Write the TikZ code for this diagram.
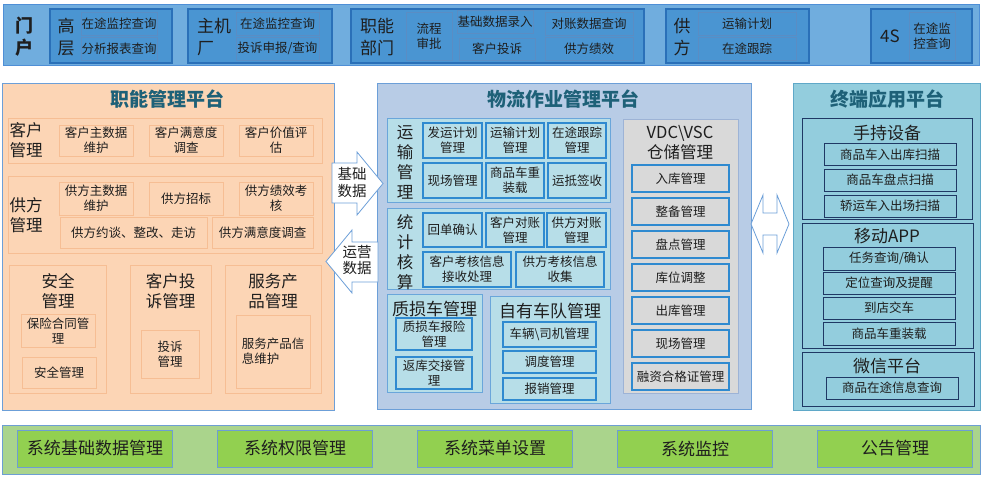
\documentclass[tikz,border=0pt]{standalone}
\usepackage{fontspec}
\setmainfont{Noto Sans CJK SC}
\usetikzlibrary{arrows,arrows.meta}

\definecolor{ink}{HTML}{1E1E1E}
\definecolor{topfill}{HTML}{70ADDE}
\definecolor{topline}{HTML}{4F8FD6}
\definecolor{topbox}{HTML}{4A95D2}
\definecolor{topedge}{HTML}{2A70B8}
\definecolor{topsubedge}{HTML}{5A8DC4}
\definecolor{peach}{HTML}{FCD5B5}
\definecolor{peachedge}{HTML}{F6BE94}
\definecolor{paneledge}{HTML}{6C9FD8}
\definecolor{steel}{HTML}{B8CCE6}
\definecolor{cyanbox}{HTML}{B7DEE8}
\definecolor{cyanedge}{HTML}{6AA6DA}
\definecolor{cyanline}{HTML}{2F8AD0}
\definecolor{greybox}{HTML}{D9D9D9}
\definecolor{greyedge}{HTML}{9DB3D6}
\definecolor{termfill}{HTML}{93CDDD}
\definecolor{termedge}{HTML}{5FA8C8}
\definecolor{navy}{HTML}{1F3864}
\definecolor{greenbar}{HTML}{AAD48C}
\definecolor{greenbox}{HTML}{92D050}
\definecolor{greenedge}{HTML}{6D9ED3}
\definecolor{tealtitle}{HTML}{1E6178}

\newcommand{\smallfnt}{\fontsize{12.5}{15}\selectfont}
\newcommand{\midfnt}{\fontsize{16.5}{20}\selectfont}
\newcommand{\topfnt}{\fontsize{17}{22}\selectfont}
\newcommand{\titlefnt}{\fontsize{19}{22}\selectfont\bfseries}

\begin{document}
\begin{tikzpicture}[
x=1pt,y=-1pt,
box/.style={rectangle,inner sep=0pt,outer sep=0pt,align=center,text=ink},
sz/.style 2 args={minimum width=#1pt,minimum height=#2pt},
topbar/.style={box,fill=topfill,draw=topline,line width=0.8pt},
tgrp/.style={box,fill=topbox,draw=topedge,line width=1.2pt},
tsub/.style={box,fill=topbox,draw=topsubedge,line width=0.6pt,font=\smallfnt},
lpanel/.style={box,fill=peach,draw=paneledge,line width=0.8pt},
lgrp/.style={box,draw=peachedge,line width=0.8pt},
lsub/.style={box,draw=peachedge,line width=0.8pt,font=\smallfnt},
mpanel/.style={box,fill=steel,draw=paneledge,line width=0.8pt},
cgrp/.style={box,fill=cyanbox,draw=cyanedge,line width=0.8pt},
csub/.style={box,fill=cyanbox,draw=cyanline,line width=1.2pt,font=\smallfnt},
ggrp/.style={box,fill=greybox,draw=greyedge,line width=0.8pt},
gsub/.style={box,fill=greybox,draw=cyanline,line width=1.2pt,font=\smallfnt},
rpanel/.style={box,fill=termfill,draw=termedge,line width=0.8pt},
rgrp/.style={box,draw=navy,line width=1pt},
rsub/.style={box,draw=navy,line width=1pt,font=\smallfnt},
bbar/.style={box,fill=greenbar,draw=greenedge,line width=0.8pt},
bsub/.style={box,fill=greenbox,draw=greenedge,line width=0.8pt,font=\fontsize{17}{20}\selectfont},
lbl/.style={align=center,inner sep=0pt,text=ink,font=\midfnt},
ptitle/.style={inner sep=0pt,text=tealtitle,font=\titlefnt},
blockarrow/.style={fill=white,draw=paneledge,line width=0.8pt,line join=miter}
]

\useasboundingbox (0,0) rectangle (987,479);

\node[topbar,sz={976}{61}] (portal) at (491,34.5) {};

\node[lbl,font=\fontsize{18}{22}\selectfont\bfseries] (portaltxt) at (25,37) {门\\户};

\node[tgrp,sz={122}{54}] (gaoceng) at (111,36) {};

\node[lbl,font=\topfnt] (gaocengtxt) at (66,37) {高\\层};

\node[tsub,sz={76}{23}] (gaoceng1) at (119,23.5) {在途监控查询};

\node[tsub,sz={76}{23}] (gaoceng2) at (119,48.5) {分析报表查询};

\node[tgrp,sz={144}{54}] (oem) at (260,36) {};

\node[lbl,font=\topfnt,align=left] (oemtxt) at (214,37) {主机\\厂};

\node[tsub,sz={83}{23}] (oem1) at (277.5,23.5) {在途监控查询};

\node[tsub,sz={83}{23}] (oem2) at (277.5,48.5) {投诉申报/查询};

\node[tgrp,sz={293}{54}] (dept) at (497.5,36) {};

\node[lbl,font=\topfnt] (depttxt) at (377,37) {职能\\部门};

\node[tsub,sz={46}{48}] (dept1) at (429,36) {流程\\审批};

\node[tsub,sz={76}{23}] (dept2) at (495,21.5) {基础数据录入};

\node[tsub,sz={76}{22}] (dept3) at (497,49) {客户投诉};

\node[tsub,sz={88}{23}] (dept4) at (589,23.5) {对账数据查询};

\node[tsub,sz={88}{23}] (dept5) at (589,48.5) {供方绩效};

\node[tgrp,sz={143}{54}] (supp) at (737.5,36) {};

\node[lbl,font=\topfnt] (supptxt) at (682,37) {供\\方};

\node[tsub,sz={98}{23}] (supp1) at (747,23.5) {运输计划};

\node[tsub,sz={98}{23}] (supp2) at (747,48.5) {在途跟踪};

\node[tgrp,sz={101}{54}] (fours) at (921.5,36) {};

\node[lbl,font=\topfnt] (fourstxt) at (890,36) {4S};

\node[tsub,sz={46}{48}] (fours1) at (932,36) {在途监\\控查询};

\node[lpanel,sz={332}{327}] (func) at (168,246.5) {};

\node[ptitle] (functxt) at (167,99) {职能管理平台};

\node[lgrp,sz={314}{45}] (cust) at (165,140.5) {};

\node[lbl] (custtxt) at (26,140.5) {客户\\管理};

\node[lsub,sz={74}{31}] (cust1) at (96,140.5) {客户主数据\\维护};

\node[lsub,sz={74}{31}] (cust2) at (186,140.5) {客户满意度\\调查};

\node[lsub,sz={74}{31}] (cust3) at (276,140.5) {客户价值评\\估};

\node[lgrp,sz={314}{77}] (vend) at (165,214.5) {};

\node[lbl] (vendtxt) at (26,215) {供方\\管理};

\node[lsub,sz={74}{33}] (vend1) at (96,198.5) {供方主数据\\维护};

\node[lsub,sz={74}{33}] (vend2) at (186,198.5) {供方招标};

\node[lsub,sz={74}{33}] (vend3) at (276,198.5) {供方绩效考\\核};

\node[lsub,sz={147}{31}] (vend4) at (133.5,232.5) {供方约谈、整改、走访};

\node[lsub,sz={101}{31}] (vend5) at (262.5,232.5) {供方满意度调查};

\node[lgrp,sz={97}{128}] (safe) at (57.5,329) {};

\node[lbl] (safetxt) at (58,291.5) {安全\\管理};

\node[lsub,sz={74}{33}] (safe1) at (58,330.5) {保险合同管\\理};

\node[lsub,sz={74}{31}] (safe2) at (59,372.5) {安全管理};

\node[lgrp,sz={81}{128}] (compl) at (170.5,329) {};

\node[lbl] (compltxt) at (170.5,291.5) {客户投\\诉管理};

\node[lsub,sz={58}{48}] (compl1) at (170,354) {投诉\\管理};

\node[lgrp,sz={96}{128}] (serv) at (273,329) {};

\node[lbl] (servtxt) at (273,291.5) {服务产\\品管理};

\node[lsub,sz={74}{73},align=left] (serv1) at (273,351.5) {服务产品信\\息维护};

\node[mpanel,sz={374}{326}] (logi) at (564,246) {};

\node[ptitle] (logitxt) at (563,99) {物流作业管理平台};

\node[cgrp,sz={223}{84}] (trans) at (498.5,160) {};

\node[lbl] (transtxt) at (405,162) {运\\输\\管\\理};

\node[csub,sz={59}{35}] (trans1) at (452.5,140.5) {发运计划\\管理};

\node[csub,sz={58}{35}] (trans2) at (515,140.5) {运输计划\\管理};

\node[csub,sz={58}{35}] (trans3) at (577,140.5) {在途跟踪\\管理};

\node[csub,sz={59}{35}] (trans4) at (452.5,180.5) {现场管理};

\node[csub,sz={58}{35}] (trans5) at (515,180.5) {商品车重\\装载};

\node[csub,sz={58}{35}] (trans6) at (577,180.5) {运抵签收};

\node[cgrp,sz={223}{81}] (stat) at (498.5,248.5) {};

\node[lbl] (stattxt) at (405,252) {统\\计\\核\\算};

\node[csub,sz={59}{34}] (stat1) at (452.5,230) {回单确认};

\node[csub,sz={58}{34}] (stat2) at (515,230) {客户对账\\管理};

\node[csub,sz={59}{34}] (stat3) at (576.5,230) {供方对账\\管理};

\node[csub,sz={88}{35}] (stat4) at (467,269.5) {客户考核信息\\接收处理};

\node[csub,sz={88}{35}] (stat5) at (560,269.5) {供方考核信息\\收集};

\node[cgrp,sz={95}{98}] (dmg) at (434.5,343) {};

\node[lbl,font=\fontsize{17}{20}\selectfont] (dmgtxt) at (434.5,309) {质损车管理};

\node[csub,sz={76}{32}] (dmg1) at (434,334) {质损车报险\\管理};

\node[csub,sz={76}{32}] (dmg2) at (434,373) {返库交接管\\理};

\node[cgrp,sz={120}{107}] (fleet) at (550,349.5) {};

\node[lbl,font=\fontsize{17}{20}\selectfont] (fleettxt) at (550,311) {自有车队管理};

\node[csub,sz={93}{25}] (fleet1) at (549.5,334.5) {车辆\textbackslash 司机管理};

\node[csub,sz={93}{22}] (fleet2) at (549.5,362) {调度管理};

\node[csub,sz={93}{22}] (fleet3) at (549.5,389) {报销管理};

\node[ggrp,sz={115}{274}] (store) at (680.5,256) {};

\node[lbl] (storetxt) at (680,143) {VDC\textbackslash VSC\\仓储管理};

\node[gsub,sz={97}{27}] (store1) at (680.5,178.5) {入库管理};

\node[gsub,sz={97}{27}] (store2) at (680.5,211.5) {整备管理};

\node[gsub,sz={97}{27}] (store3) at (680.5,244.5) {盘点管理};

\node[gsub,sz={97}{27}] (store4) at (680.5,277.5) {库位调整};

\node[gsub,sz={97}{27}] (store5) at (680.5,310.5) {出库管理};

\node[gsub,sz={97}{27}] (store6) at (680.5,343.5) {现场管理};

\node[gsub,sz={97}{27}] (store7) at (680.5,376.5) {融资合格证管理};

\node[rpanel,sz={187}{327}] (term) at (886.5,246.5) {};

\node[ptitle] (termtxt) at (887,99) {终端应用平台};

\node[rgrp,sz={170}{101}] (hand) at (887,168.5) {};

\node[lbl,font=\fontsize{17}{20}\selectfont] (handtxt) at (887,133) {手持设备};

\node[rsub,sz={132}{22}] (hand1) at (890,154.5) {商品车入出库扫描};

\node[rsub,sz={132}{22}] (hand2) at (890,180) {商品车盘点扫描};

\node[rsub,sz={132}{22}] (hand3) at (890,206) {轿运车入出场扫描};

\node[rgrp,sz={171}{125}] (app) at (887.5,285.5) {};

\node[lbl,font=\fontsize{17}{20}\selectfont] (apptxt) at (887,236) {移动APP};

\node[rsub,sz={132}{23}] (app1) at (889,258.5) {任务查询/确认};

\node[rsub,sz={132}{22}] (app2) at (889,283) {定位查询及提醒};

\node[rsub,sz={132}{22}] (app3) at (889,308) {到店交车};

\node[rsub,sz={132}{23}] (app4) at (889,333.5) {商品车重装载};

\node[rgrp,sz={172}{54}] (wechat) at (888,379) {};

\node[lbl,font=\fontsize{17}{20}\selectfont] (wechattxt) at (887,366) {微信平台};

\node[rsub,sz={132}{22}] (wechat1) at (892,388) {商品在途信息查询};

\draw[blockarrow] (332,163) -- (357,163) -- (357,152) -- (383,183.5) -- (357,215) -- (357,203) -- (332,203) -- cycle;

\node[lbl,font=\fontsize{14.5}{17}\selectfont] (basedata) at (352,183) {基础\\数据};

\draw[blockarrow] (378,242) -- (352,242) -- (352,230) -- (326,261.5) -- (352,293) -- (352,282) -- (378,282) -- cycle;

\node[lbl,font=\fontsize{14.5}{16}\selectfont] (opdata) at (357,260) {运营\\数据};

\draw[blockarrow] (751,224) -- (763,195) -- (763,213) -- (777,213) -- (777,195) -- (789,224) -- (777,253) -- (777,235) -- (763,235) -- (763,253) -- cycle;

\node[bbar,sz={978}{49}] (sys) at (491,449.5) {};

\node[bsub,sz={155}{37}] (sys1) at (95,448.5) {系统基础数据管理};

\node[bsub,sz={155}{37}] (sys2) at (295,448.5) {系统权限管理};

\node[bsub,sz={155}{37}] (sys3) at (495,448.5) {系统菜单设置};

\node[bsub,sz={155}{37}] (sys4) at (695,448.5) {系统监控};

\node[bsub,sz={155}{37}] (sys5) at (895,448.5) {公告管理};

\end{tikzpicture}
\end{document}
